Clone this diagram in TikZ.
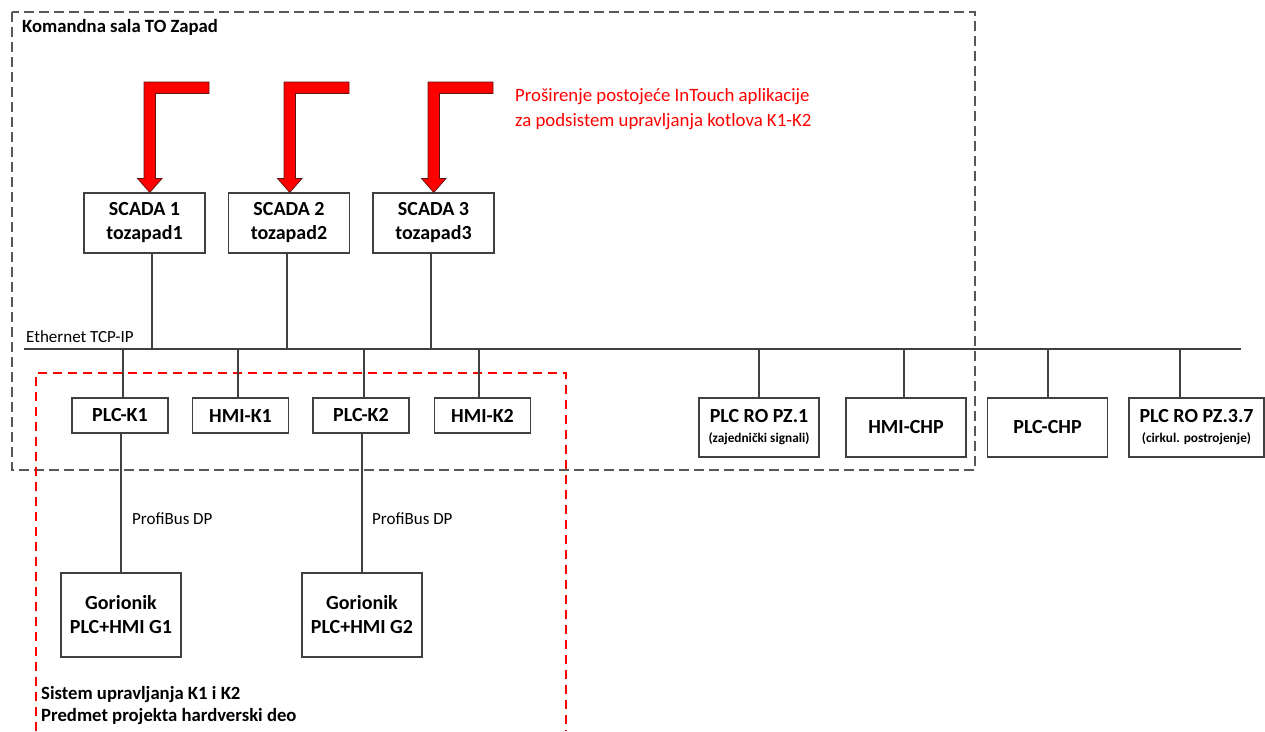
\documentclass[tikz,border=0pt]{standalone}
\usepackage{fontspec}
\setmainfont{Carlito}
\definecolor{linegray}{RGB}{64,64,64}
\definecolor{dashgray}{RGB}{88,88,88}
\definecolor{hotred}{RGB}{255,0,0}
\definecolor{arredge}{RGB}{90,20,20}
\newcommand{\subtxt}{\fontsize{13.3}{15}\selectfont}
\tikzset{
  blk/.style={draw=linegray, line width=1.3pt, fill=white, align=center, inner sep=0pt,
              font=\fontsize{20}{24}\selectfont\bfseries},
  sblk/.style={blk, minimum width=121pt, minimum height=60pt},
  kblk/.style={blk, minimum width=96pt, minimum height=35pt},
  rblk/.style={blk, minimum width=120pt, minimum height=59pt},
  gblk/.style={blk, minimum width=120pt, minimum height=84pt},
  wire/.style={linegray, line width=1.3pt},
  room/.style={dashgray, line width=1.3pt, dash pattern=on 10pt off 5pt},
  scopebox/.style={hotred, line width=1.3pt, dash pattern=on 9pt off 6pt},
  bent/.style={fill=hotred, draw=arredge, line width=0.7pt, line join=miter},
  lbl/.style={font=\fontsize{17}{21}\selectfont, inner sep=0pt},
  ttl/.style={font=\fontsize{18.7}{22}\selectfont\bfseries, inner sep=0pt},
}

\begin{document}
\begin{tikzpicture}[x=1pt, y=-1pt]
    \useasboundingbox (0,0) rectangle (1265,731);
    % frames
    \draw[room] (12,12) rectangle (975,470);
    \draw[scopebox] (36,731) -- (36,373) -- (566,373) -- (566,731);
    \node[ttl, anchor=base west] (roomlab) at (22,32) {Komandna sala TO Zapad};
    \node[ttl, align=left, anchor=north west] (scopelab) at (41,686)
      {Sistem upravljanja K1 i K2\\Predmet projekta hardverski deo};

    % SCADA stations
    \node[sblk] (S1) at (144.5,223) {SCADA 1\\tozapad1};
    \node[sblk] (S2) at (289,223) {SCADA 2\\tozapad2};
    \node[sblk] (S3) at (433.5,223) {SCADA 3\\tozapad3};
    \foreach \ax in {144,284,428}
      \draw[bent] (\ax,82) -- ++(65,0) -- ++(0,11.5) -- ++(-53.5,0) -- ++(0,85)
        -- ++(6.5,0) -- ++(-12.25,14) -- ++(-12.25,-14) -- ++(6.5,0) -- cycle;
    \node[lbl, text=hotred, align=left, anchor=north west, font=\fontsize{18.8}{25}\selectfont]
      (ext) at (515,88) {Proširenje postojeće InTouch aplikacije\\za podsistem upravljanja kotlova K1-K2};

    % Ethernet bus
    \coordinate (busL) at (24,349); \coordinate (busR) at (1241,349);
    \draw[wire] (busL) -- (busR);
    \node[lbl, anchor=base west] (eth) at (26,342) {Ethernet TCP-IP};
    \coordinate (s1) at (152,349); \coordinate (s2) at (287,349); \coordinate (s3) at (431,349);
    \draw[wire] (S1.south -| s1) -- (s1); \draw[wire] (S2.south -| s2) -- (s2);
    \draw[wire] (S3.south -| s3) -- (s3);

    % controllers and panels
    \node[kblk] (PK1) at (120,415.5) {PLC-K1};
    \node[kblk] (HK1) at (240.5,415.5) {HMI-K1};
    \node[kblk] (PK2) at (361,415.5) {PLC-K2};
    \node[kblk] (HK2) at (482.5,415.5) {HMI-K2};
    \node[rblk] (RO1) at (759,427.5) {PLC RO PZ.1\\[-4pt]{\subtxt (zajednički signali)}};
    \node[rblk] (HCHP) at (906,427.5) {HMI-CHP};
    \node[rblk] (PCHP) at (1047.5,427.5) {PLC-CHP};
    \node[rblk, minimum width=135pt] (RO37) at (1196.5,427.5) {PLC RO PZ.3.7\\[-4pt]{\subtxt (cirkul. postrojenje)}};
    \coordinate (d1) at (123,349); \coordinate (d2) at (238,349);
    \coordinate (d3) at (364,349); \coordinate (d4) at (479,349);
    \coordinate (d5) at (759,349); \coordinate (d6) at (904,349);
    \coordinate (d7) at (1048,349); \coordinate (d8) at (1180,349);
    \draw[wire] (d1) -- (PK1.north -| d1); \draw[wire] (d2) -- (HK1.north -| d2);
    \draw[wire] (d3) -- (PK2.north -| d3); \draw[wire] (d4) -- (HK2.north -| d4);
    \draw[wire] (d5) -- (RO1.north -| d5); \draw[wire] (d6) -- (HCHP.north -| d6);
    \draw[wire] (d7) -- (PCHP.north -| d7); \draw[wire] (d8) -- (RO37.north -| d8);

    % burners on ProfiBus
    \node[gblk] (G1) at (121,615) {Gorionik\\PLC+HMI G1};
    \node[gblk] (G2) at (362,615) {Gorionik\\PLC+HMI G2};
    \draw[wire] (PK1.south -| G1.north) -- (G1.north);
    \draw[wire] (PK2.south -| G2.north) -- (G2.north);
    \node[lbl, anchor=west] (pb1) at (132,519) {ProfiBus DP};
    \node[lbl, anchor=west] (pb2) at (372,519) {ProfiBus DP};
\end{tikzpicture}
\end{document}
